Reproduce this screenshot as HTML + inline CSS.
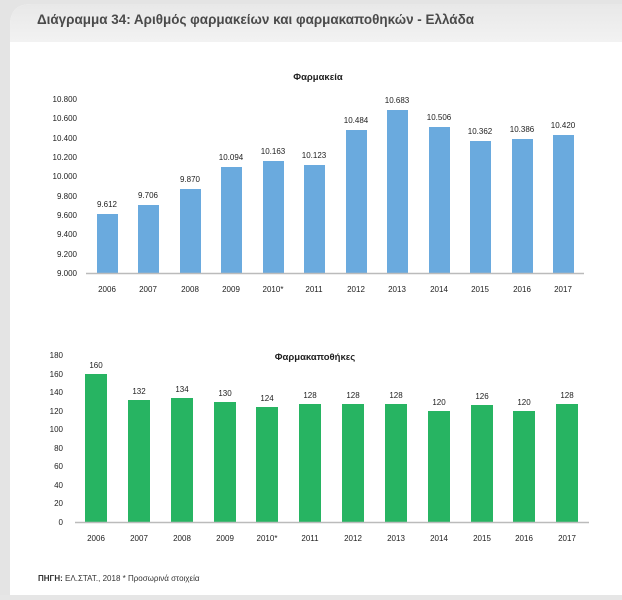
<!DOCTYPE html>
<html><head><meta charset="utf-8"><style>
body{margin:0;width:622px;height:595px;overflow:hidden;background:#e6e6e6;font-family:"Liberation Sans",sans-serif}
</style></head><body>
<svg width="622" height="595" xmlns="http://www.w3.org/2000/svg" font-family="Liberation Sans, sans-serif">
<defs><linearGradient id="hd" x1="0" y1="0" x2="0" y2="1"><stop offset="0" stop-color="#e8e8e8"/><stop offset="1" stop-color="#f2f2f2"/></linearGradient></defs>
<rect x="0" y="0" width="622" height="595" fill="#e4e4e4"/>
<path d="M10 595 L10 25 Q10 4 31 4 L622 4 L622 595 Z" fill="#ffffff"/>
<path d="M10 42 L10 25 Q10 4 31 4 L622 4 L622 42 Z" fill="url(#hd)"/>
<text x="37" y="24" font-size="13.5" font-weight="bold" fill="#4a4a4a" textLength="437" lengthAdjust="spacingAndGlyphs">Διάγραμμα 34: Αριθμός φαρμακείων και φαρμακαποθηκών - Ελλάδα</text>
<g id="top" font-size="8" fill="#222">
<text x="318" y="80" text-anchor="middle" font-size="9.5" font-weight="bold">Φαρμακεία</text>
<g text-anchor="end">
<text x="77" y="102">10.800</text><text x="77" y="121">10.600</text><text x="77" y="141">10.400</text><text x="77" y="160">10.200</text><text x="77" y="179">10.000</text><text x="77" y="199">9.800</text><text x="77" y="218">9.600</text><text x="77" y="237">9.400</text><text x="77" y="257">9.200</text><text x="77" y="276">9.000</text>
</g>
<g fill="#6aaade">
<rect x="97" y="214" width="21" height="59"/>
<rect x="138" y="205" width="21" height="68"/>
<rect x="180" y="189" width="21" height="84"/>
<rect x="221" y="167" width="21" height="106"/>
<rect x="263" y="161" width="21" height="112"/>
<rect x="304" y="165" width="21" height="108"/>
<rect x="346" y="130" width="21" height="143"/>
<rect x="387" y="110" width="21" height="163"/>
<rect x="429" y="127" width="21" height="146"/>
<rect x="470" y="141" width="21" height="132"/>
<rect x="512" y="139" width="21" height="134"/>
<rect x="553" y="135" width="21" height="138"/>
</g>
<line x1="86" y1="273.5" x2="584" y2="273.5" stroke="#bbb" stroke-width="1.5"/>
<g text-anchor="middle">
<text x="107" y="207">9.612</text><text x="148" y="198">9.706</text><text x="190" y="182">9.870</text><text x="231" y="160">10.094</text><text x="273" y="154">10.163</text><text x="314" y="158">10.123</text><text x="356" y="123">10.484</text><text x="397" y="103">10.683</text><text x="439" y="120">10.506</text><text x="480" y="134">10.362</text><text x="522" y="132">10.386</text><text x="563" y="128">10.420</text>
<text x="107" y="292">2006</text><text x="148" y="292">2007</text><text x="190" y="292">2008</text><text x="231" y="292">2009</text><text x="273" y="292">2010*</text><text x="314" y="292">2011</text><text x="356" y="292">2012</text><text x="397" y="292">2013</text><text x="439" y="292">2014</text><text x="480" y="292">2015</text><text x="522" y="292">2016</text><text x="563" y="292">2017</text>
</g>
</g>
<g font-size="8" fill="#222">
<text x="315" y="360" text-anchor="middle" font-size="9.5" font-weight="bold">Φαρμακαποθήκες</text>
<g text-anchor="end">
<text x="63" y="358">180</text><text x="63" y="377">160</text><text x="63" y="395">140</text><text x="63" y="414">120</text><text x="63" y="432">100</text><text x="63" y="451">80</text><text x="63" y="469">60</text><text x="63" y="488">40</text><text x="63" y="506">20</text><text x="63" y="525">0</text>
</g>
<g fill="#27b462">
<rect x="85" y="374" width="22" height="148"/>
<rect x="128" y="400" width="22" height="122"/>
<rect x="171" y="398" width="22" height="124"/>
<rect x="214" y="402" width="22" height="120"/>
<rect x="256" y="407" width="22" height="115"/>
<rect x="299" y="404" width="22" height="118"/>
<rect x="342" y="404" width="22" height="118"/>
<rect x="385" y="404" width="22" height="118"/>
<rect x="428" y="411" width="22" height="111"/>
<rect x="471" y="405" width="22" height="117"/>
<rect x="513" y="411" width="22" height="111"/>
<rect x="556" y="404" width="22" height="118"/>
</g>
<line x1="75" y1="522.5" x2="589" y2="522.5" stroke="#bbb" stroke-width="1.5"/>
<g text-anchor="middle">
<text x="96" y="368">160</text><text x="139" y="394">132</text><text x="182" y="392">134</text><text x="225" y="396">130</text><text x="267" y="401">124</text><text x="310" y="398">128</text><text x="353" y="398">128</text><text x="396" y="398">128</text><text x="439" y="405">120</text><text x="482" y="399">126</text><text x="524" y="405">120</text><text x="567" y="398">128</text>
<text x="96" y="541">2006</text><text x="139" y="541">2007</text><text x="182" y="541">2008</text><text x="225" y="541">2009</text><text x="267" y="541">2010*</text><text x="310" y="541">2011</text><text x="353" y="541">2012</text><text x="396" y="541">2013</text><text x="439" y="541">2014</text><text x="482" y="541">2015</text><text x="524" y="541">2016</text><text x="567" y="541">2017</text>
</g>
</g>
<text x="38" y="581" font-size="8" fill="#333"><tspan font-weight="bold">ΠΗΓΗ:</tspan> ΕΛ.ΣΤΑΤ., 2018 * Προσωρινά στοιχεία</text>
</svg>
</body></html>
